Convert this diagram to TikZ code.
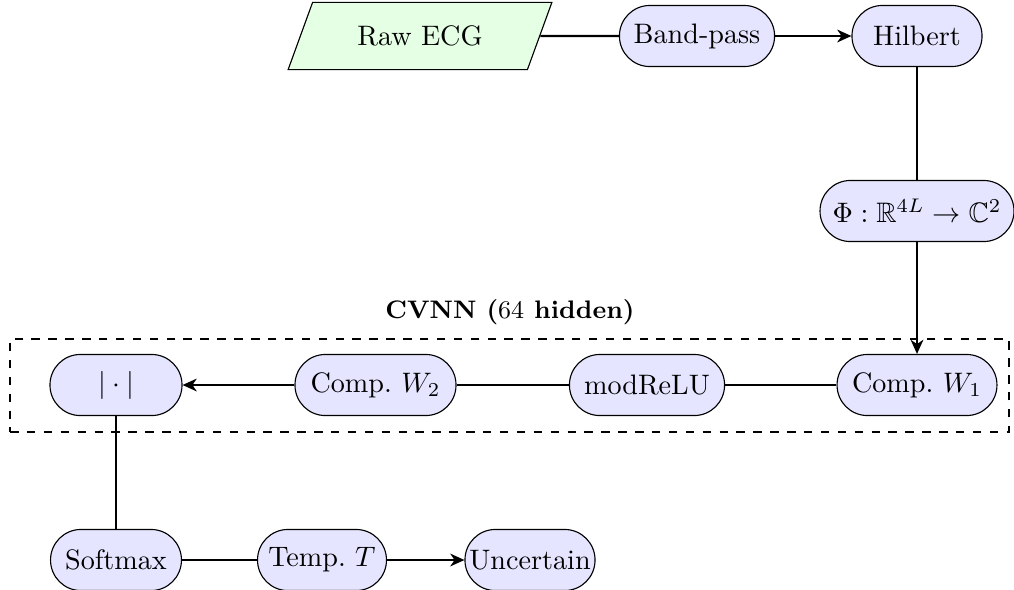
\documentclass[tikz,border=0pt]{standalone}
\usepackage{amssymb}
\usetikzlibrary{shapes.geometric, arrows.meta}
\begin{document}
\begin{tikzpicture}[x=0.3552pt, y=-0.3552pt,
  proc/.style={rectangle, rounded corners=10.8pt, draw, fill=blue!10, minimum height=21.7pt, inner xsep=0pt, minimum width=#1},
  io/.style={trapezium, trapezium left angle=70, trapezium right angle=110, draw, fill=green!10, minimum height=22pt, minimum width=94.5pt, inner xsep=0pt},
  conn/.style={thick},
  arr/.style={thick, -{Stealth[length=5pt, width=4.5pt, inset=1.5pt]}},
  group/.style={draw, dashed, thick, inner sep=0pt}]
\useasboundingbox (0,0) rectangle (1014,589);
\node[io] (raw) at (420,36) {Raw ECG};
\node[proc=55.1pt] (bp) at (697,36) {Band-pass};
\node[proc=46.2pt] (hil) at (917,36) {Hilbert};
\node[proc=68.9pt] (phi) at (917,211) {$\Phi:\mathbb{R}^{4L}\to\mathbb{C}^2$};
\node[group, minimum width=354.8pt, minimum height=33pt] (box) at (509.5,385.5) {};
\node[font=\small\bfseries] (lab) at (510,312) {CVNN ($64$ hidden)};
\node[proc=56.8pt] (w1) at (917,385) {Comp.\ $W_1$};
\node[proc=55.1pt] (relu) at (647,385) {modReLU};
\node[proc=57.2pt] (w2) at (375.5,385) {Comp.\ $W_2$};
\node[proc=46.9pt] (abs) at (116,385) {$|\cdot|$};
\node[proc=46.5pt] (soft) at (116,560) {Softmax};
\node[proc=45.8pt] (temp) at (322,560) {Temp.\ $T$};
\node[proc=46.2pt] (unc) at (530,560) {Uncertain};
\draw[conn] (raw) -- (bp);
\draw[arr] (bp) -- (hil);
\draw[conn] (hil) -- (phi);
\draw[arr] (phi) -- (w1);
\draw[conn] (w1) -- (relu);
\draw[conn] (relu) -- (w2);
\draw[arr] (w2) -- (abs);
\draw[conn] (abs) -- (soft);
\draw[conn] (soft) -- (temp);
\draw[arr] (temp) -- (unc);
\end{tikzpicture}
\end{document}
